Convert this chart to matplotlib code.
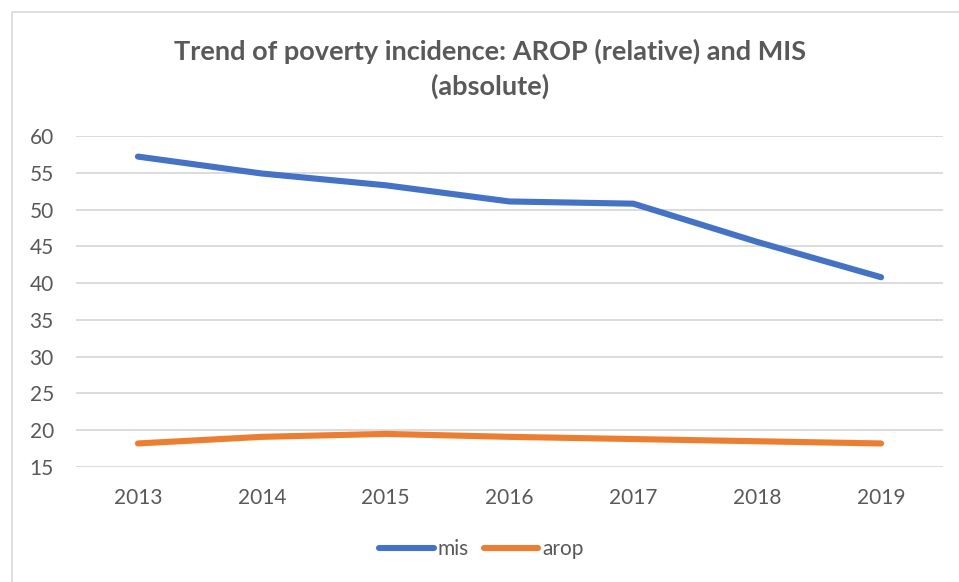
import matplotlib as mlp
import matplotlib.pyplot as plt
from matplotlib.patches import Rectangle

mlp.rcParams['font.family'] = ['Lato', 'DejaVu Sans']

years = ['2013', '2014', '2015', '2016', '2017', '2018', '2019']
mis = [57.2, 54.9, 53.3, 51.1, 50.8, 45.6, 40.8]
arop = [18.2, 19.1, 19.5, 19.1, 18.8, 18.5, 18.2]

grey = '#595959'
W, H = 959, 582

fig = plt.figure(figsize=(W / 100, H / 100), dpi=100)
fig.patch.set_facecolor('white')

# chart frame
fig.patches.append(Rectangle((12 / W, -0.1), 1.2, 1.1 - 12 / H, transform=fig.transFigure,
                             fill=False, edgecolor='#d9d9d9', linewidth=1.2))

ax = fig.add_axes([76 / W, 1 - 467 / H, (943 - 76) / W, (467 - 136) / H])
xs = range(len(years))
ax.plot(xs, mis, color='#4472C4', lw=4.4, solid_capstyle='round', solid_joinstyle='round', label='mis')
ax.plot(xs, arop, color='#ED7D31', lw=4.4, solid_capstyle='round', solid_joinstyle='round', label='arop')

ax.set_xlim(-0.5, len(years) - 0.5)
ax.set_ylim(15, 60)
ax.set_yticks(range(15, 61, 5))
ax.set_xticks(list(xs))
ax.set_xticklabels(years)
ax.grid(axis='y', color='#d9d9d9', lw=1.3)
ax.set_axisbelow(True)
for s in ax.spines.values():
    s.set_visible(False)
ax.tick_params(axis='both', length=0, labelsize=15, labelcolor=grey)
ax.tick_params(axis='y', pad=16)
ax.tick_params(axis='x', pad=15)

fig.text(0.511, 1 - 69 / H, 'Trend of poverty incidence: AROP (relative) and MIS\n(absolute)',
         ha='center', va='center', fontsize=19.5, fontweight='bold', color=grey, linespacing=1.45)

fig.legend(loc='center', bbox_to_anchor=(0.502, 1 - 549 / H), ncol=2, frameon=False,
           fontsize=15, labelcolor=grey, handlelength=2.6, handletextpad=0.2, columnspacing=0.7)

plt.savefig('out.png', dpi=100)
